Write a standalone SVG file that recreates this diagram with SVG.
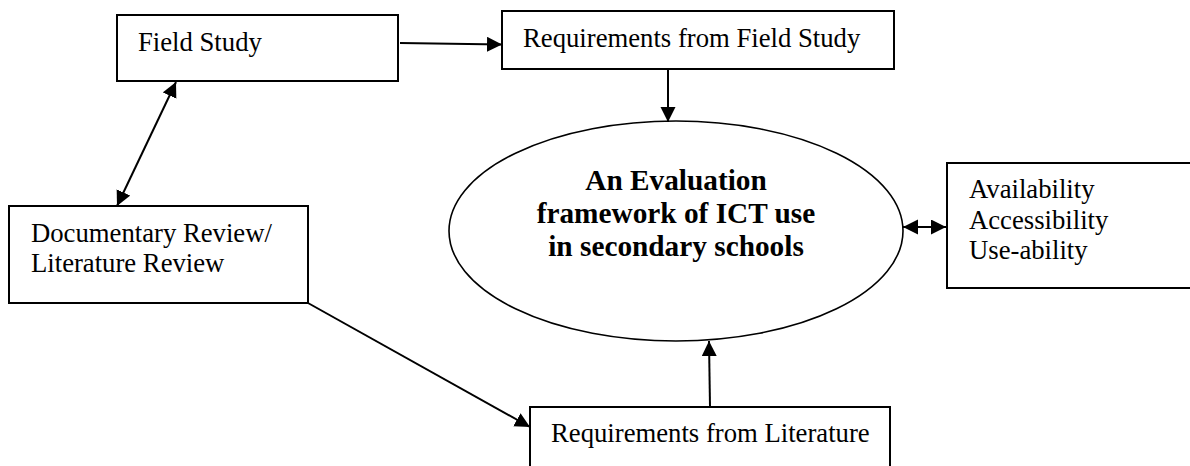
<svg xmlns="http://www.w3.org/2000/svg" width="1190" height="466" viewBox="0 0 1190 466">
<style>
.box{fill:#fff;stroke:#000;stroke-width:2}
.t{font-family:"Liberation Serif","Times New Roman",serif;font-size:26.7px;fill:#000}
.b{font-family:"Liberation Serif","Times New Roman",serif;font-size:29.3px;font-weight:bold;fill:#000;text-anchor:middle}
.c{fill:none;stroke:#000;stroke-width:2}
</style>
<defs>
<marker id="ah" markerUnits="userSpaceOnUse" markerWidth="18" markerHeight="16" refX="15" refY="7.5" orient="auto-start-reverse" viewBox="0 0 18 16">
<path d="M0,0 L15,7.5 L0,15 z" fill="#000"/>
</marker>
</defs>
<rect width="1190" height="466" fill="#fff"/>
<g id="field-study">
<rect class="box" x="117" y="15" width="281" height="66"/>
<text class="t" x="138" y="51">Field Study</text>
</g>
<g id="req-field">
<rect class="box" x="502" y="11" width="392" height="58"/>
<text class="t" x="523" y="47">Requirements from Field Study</text>
</g>
<g id="framework">
<ellipse cx="676" cy="231" rx="227" ry="110" fill="#fff" stroke="#000" stroke-width="1.6"/>
<text class="b" x="676" y="190">An Evaluation</text>
<text class="b" x="676" y="223">framework of ICT use</text>
<text class="b" x="676" y="256">in secondary schools</text>
</g>
<g id="criteria">
<rect class="box" x="947" y="163" width="245" height="125"/>
<text class="t" x="969" y="198">Availability</text>
<text class="t" x="969" y="229">Accessibility</text>
<text class="t" x="969" y="259">Use-ability</text>
</g>
<g id="doc-review">
<rect class="box" x="9" y="206" width="299" height="97"/>
<text class="t" x="31" y="242">Documentary Review/</text>
<text class="t" x="31" y="272">Literature Review</text>
</g>
<g id="req-lit">
<rect class="box" x="530" y="407" width="360" height="70"/>
<text class="t" x="551" y="442">Requirements from Literature</text>
</g>
<g id="connectors">
<line class="c" x1="400" y1="43" x2="502" y2="44.5" marker-end="url(#ah)"/>
<line class="c" x1="668" y1="69" x2="668" y2="122" marker-end="url(#ah)"/>
<line class="c" x1="176" y1="82" x2="117" y2="206" marker-start="url(#ah)" marker-end="url(#ah)"/>
<line class="c" x1="308" y1="303" x2="530" y2="427" marker-end="url(#ah)"/>
<line class="c" x1="710" y1="407" x2="709" y2="341" marker-end="url(#ah)"/>
<line class="c" x1="903" y1="227" x2="946" y2="227" marker-start="url(#ah)" marker-end="url(#ah)"/>
</g>
</svg>
